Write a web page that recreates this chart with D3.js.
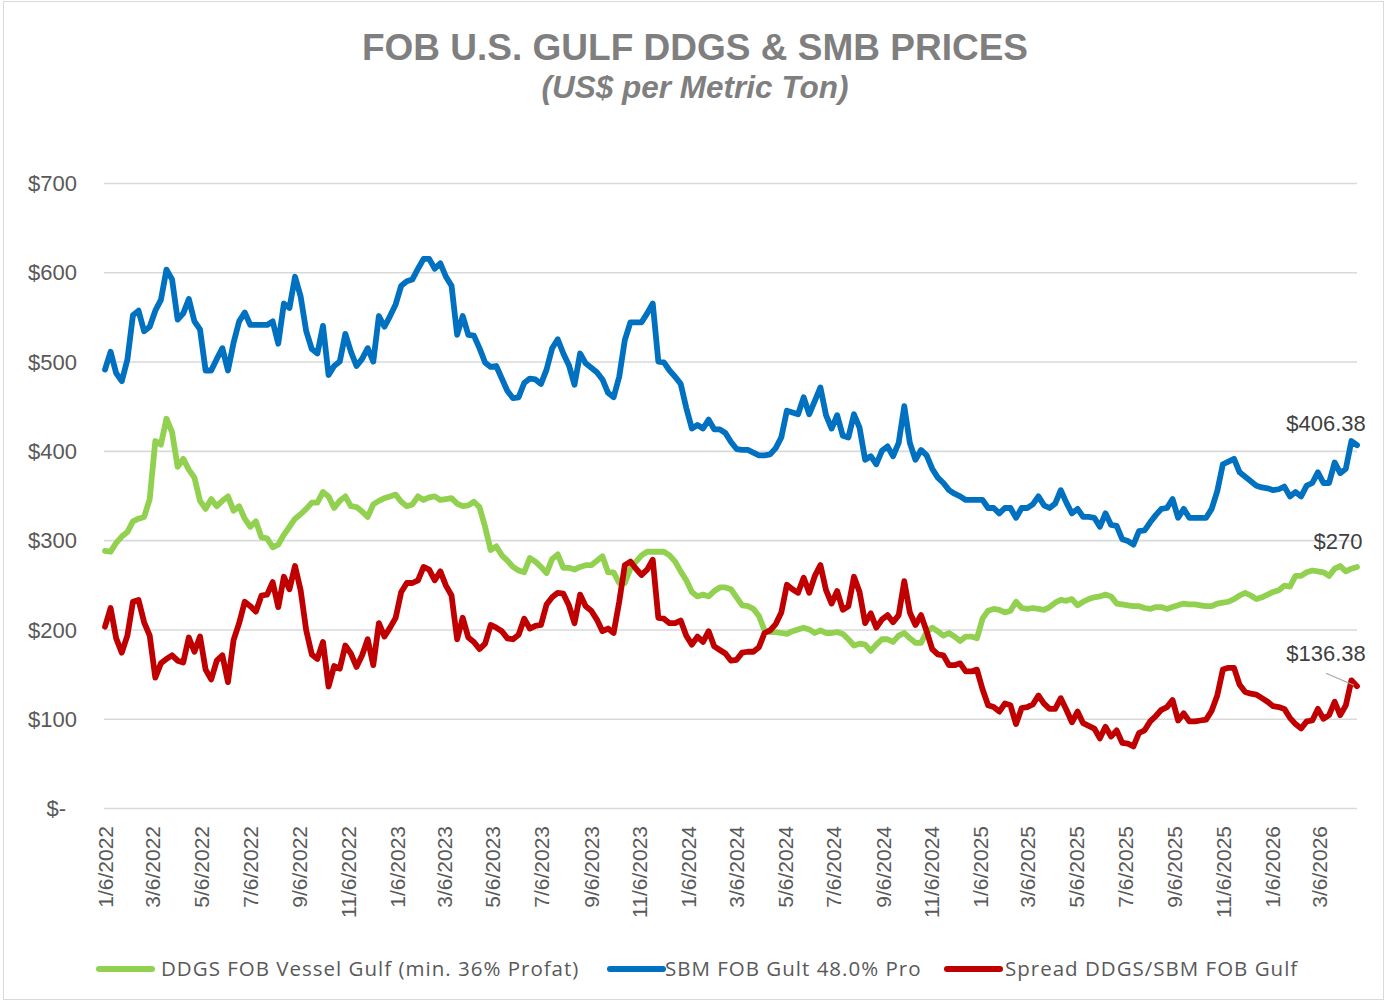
<!DOCTYPE html>
<html>
<head>
<meta charset="utf-8">
<script src="https://cdn.jsdelivr.net/npm/d3@7"></script>
<style>
  html, body { margin: 0; padding: 0; background: #fff; }
  svg { display: block; }
</style>
</head>
<body>
<div id="chart"></div>
<script>
// Weekly series, first week = 1/6/2022
const firstWeek = "2022-01-06";

const ddgs = [
  288, 287, 297, 304, 309, 321, 324, 326, 346, 411, 407, 436, 421, 382, 391, 379, 370, 344, 335, 346,
  338, 344, 349, 333, 338, 324, 315, 321, 303, 302, 292, 295, 306, 315, 324, 329, 335, 342, 342, 354,
  349, 336, 344, 349, 338, 337, 332, 326, 340, 344, 347, 349, 351, 343, 338, 340, 349, 345, 348, 349,
  345, 346, 347, 341, 338, 339, 343, 337, 315, 289, 293, 283, 277, 270, 266, 264, 280, 276, 270, 263,
  279, 284, 269, 269, 267, 270, 272, 272, 277, 282, 264, 264, 252, 252, 268, 276, 283, 287, 287, 287,
  287, 283, 276, 265, 255, 242, 237, 239, 237, 243, 247, 247, 245, 236, 227, 226, 223, 215, 199, 197,
  197, 196, 195, 198, 200, 202, 200, 196, 199, 196, 196, 197, 195, 189, 182, 184, 183, 176, 183, 189,
  189, 186, 193, 196, 190, 185, 185, 197, 202, 198, 193, 196, 192, 187, 192, 192, 190, 212, 221, 223,
  222, 219, 221, 231, 224, 223, 224, 223, 222, 225, 230, 233, 232, 234, 227, 231, 234, 236, 237, 239,
  237, 229, 228, 227, 226, 226, 224, 223, 225, 225, 223, 225, 227, 229, 228, 228, 227, 226, 226, 229,
  230, 231, 234, 238, 241, 238, 234, 236, 239, 242, 244, 249, 248, 260, 260, 264, 266, 265, 264, 260,
  268, 271, 265, 268, 270
];

const sbm = [
  491, 511, 487, 478, 502, 552, 557, 534, 539, 557, 569, 603, 592, 547, 554, 570, 545, 536, 490, 490,
  503, 515, 490, 521, 545, 555, 541, 541, 541, 541, 545, 520, 565, 560, 595, 573, 534, 514, 509, 540,
  485, 495, 500, 531, 511, 495, 503, 515, 500, 551, 539, 551, 564, 585, 590, 592, 604, 615, 615, 604,
  610, 595, 585, 530, 551, 530, 529, 515, 499, 494, 495, 481, 467, 459, 460, 476, 481, 480, 475, 491,
  515, 525, 509, 496, 474, 509, 498, 493, 488, 480, 465, 460, 483, 524, 544, 544, 544, 554, 565, 500,
  499, 490, 483, 475, 448, 425, 429, 425, 435, 424, 424, 420, 410, 402, 401, 401, 398, 395, 395, 396,
  403, 415, 445, 443, 441, 460, 441, 456, 471, 440, 425, 440, 417, 415, 441, 426, 390, 394, 385, 400,
  405, 394, 409, 450, 409, 390, 401, 395, 380, 370, 364, 356, 352, 349, 345, 345, 345, 345, 336, 336,
  330, 336, 336, 325, 336, 336, 340, 349, 339, 336, 341, 356, 342, 330, 335, 326, 326, 325, 315, 330,
  317, 316, 301, 299, 295, 310, 311, 320, 328, 335, 336, 346, 325, 335, 325, 325, 325, 325, 335, 355,
  385, 388, 391, 376, 371, 366, 361, 359, 358, 356, 357, 360, 349, 354, 349, 361, 364, 376, 364, 364,
  387, 375, 380, 411, 406.38
];

const spread = [
  203, 224, 190, 174, 193, 231, 233, 208, 193, 146, 162, 167, 171, 165, 163, 191, 175, 192, 155, 144,
  165, 171, 141, 188, 207, 231, 226, 220, 238, 239, 253, 225, 259, 245, 271, 244, 199, 172, 167, 186,
  136, 159, 156, 182, 173, 158, 171, 189, 160, 207, 192, 202, 213, 242, 252, 252, 255, 270, 267, 255,
  265, 249, 238, 189, 213, 191, 186, 178, 184, 205, 202, 198, 190, 189, 194, 212, 201, 204, 205, 228,
  236, 241, 240, 227, 207, 239, 226, 221, 211, 198, 201, 196, 231, 272, 276, 268, 261, 267, 278, 213,
  212, 207, 207, 210, 193, 183, 192, 186, 198, 181, 177, 173, 165, 166, 174, 175, 175, 180, 196, 199,
  206, 219, 250, 245, 241, 258, 241, 260, 272, 244, 229, 243, 222, 226, 259, 242, 207, 218, 202, 211,
  216, 208, 216, 254, 219, 205, 216, 198, 178, 172, 171, 160, 160, 162, 153, 153, 155, 133, 115, 113,
  108, 117, 115, 94, 112, 113, 116, 126, 117, 111, 111, 123, 110, 96, 108, 95, 92, 89, 78, 91,
  80, 87, 73, 72, 69, 84, 87, 97, 103, 110, 113, 121, 98, 106, 97, 97, 98, 99, 109, 126,
  155, 157, 157, 138, 130, 128, 127, 123, 119, 114, 113, 111, 101, 94, 89, 97, 98, 111, 100, 104,
  119, 104, 115, 143, 136.38
];

const seriesNames = [
  "DDGS FOB Vessel Gulf (min. 36% Profat)",
  "SBM FOB Gult 48.0% Pro",
  "Spread DDGS/SBM FOB Gulf"
];
const seriesColors = ["#92D050", "#0070C0", "#C00000"];

const xTickLabels = [
  "1/6/2022", "3/6/2022", "5/6/2022", "7/6/2022", "9/6/2022", "11/6/2022",
  "1/6/2023", "3/6/2023", "5/6/2023", "7/6/2023", "9/6/2023", "11/6/2023",
  "1/6/2024", "3/6/2024", "5/6/2024", "7/6/2024", "9/6/2024", "11/6/2024",
  "1/6/2025", "3/6/2025", "5/6/2025", "7/6/2025", "9/6/2025", "11/6/2025",
  "1/6/2026", "3/6/2026"
];
const yTicks = [0, 100, 200, 300, 400, 500, 600, 700];

const title = "FOB U.S. GULF DDGS & SMB PRICES";
const subtitle = "(US$ per Metric Ton)";

// ---- layout
const W = 1389, H = 1003;
const plot = { left: 104, right: 1357, top: 183, bottom: 808 };

const svg = d3.select("#chart").append("svg")
  .attr("width", W)
  .attr("height", H)
  .attr("viewBox", `0 0 ${W} ${H}`);

svg.append("rect")
  .attr("x", 3.5).attr("y", 1.5)
  .attr("width", 1380).attr("height", 998)
  .attr("fill", "#fff")
  .attr("stroke", "#d9d9d9")
  .attr("stroke-width", 1);

// dates for each weekly point
const start = d3.timeParse("%Y-%m-%d")(firstWeek);
const dates = ddgs.map((_, i) => d3.timeDay.offset(start, 7 * i));

const x = d3.scaleTime()
  .domain([dates[0], dates[dates.length - 1]])
  .range([105, plot.right]);

const y = d3.scaleLinear()
  .domain([0, 700])
  .range([plot.bottom, plot.top]);

// title
svg.append("text")
  .attr("x", 695).attr("y", 60)
  .attr("text-anchor", "middle")
  .style("font-family", "'Liberation Sans', Arial, sans-serif")
  .style("font-weight", "bold")
  .style("font-size", "37px")
  .style("fill", "#7f7f7f")
  .text(title);

svg.append("text")
  .attr("x", 695).attr("y", 98)
  .attr("text-anchor", "middle")
  .style("font-family", "'Liberation Sans', Arial, sans-serif")
  .style("font-weight", "bold")
  .style("font-style", "italic")
  .style("font-size", "31.5px")
  .style("fill", "#7f7f7f")
  .text(subtitle);

// gridlines + y labels
const yAxis = d3.axisLeft(y)
  .tickValues(yTicks)
  .tickSize(-(plot.right - plot.left))
  .tickPadding(27)
  .tickFormat(d => d === 0 ? "$-" : "$" + d);

const gy = svg.append("g")
  .attr("transform", `translate(${plot.left},0)`)
  .call(yAxis);
gy.select(".domain").remove();
gy.selectAll(".tick line")
  .attr("stroke", "#d9d9d9")
  .attr("stroke-width", 1.6);
gy.selectAll(".tick text")
  .style("font-family", "'Liberation Sans', Arial, sans-serif")
  .style("font-size", "22px")
  .style("fill", "#595959")
  .attr("dy", "0.35em")
  .attr("dx", d => d === 0 ? -11 : 0);

// x labels (rotated)
const parseTick = d3.timeParse("%m/%d/%Y");
const xAxis = d3.axisBottom(x)
  .tickValues(xTickLabels.map(parseTick))
  .tickSize(0)
  .tickFormat((d, i) => xTickLabels[i]);

const gx = svg.append("g")
  .attr("transform", `translate(0,${plot.bottom})`)
  .call(xAxis);
gx.select(".domain").remove();
gx.selectAll(".tick text")
  .attr("transform", "rotate(-90)")
  .attr("x", -18)
  .attr("y", 0)
  .attr("dy", "0.36em")
  .attr("text-anchor", "end")
  .style("font-family", "'Liberation Sans', Arial, sans-serif")
  .style("font-size", "21px")
  .style("fill", "#595959");

// lines
const seriesData = [ddgs, sbm, spread];
const line = d3.line()
  .x((d, i) => x(dates[i]))
  .y(d => y(d));

svg.append("g").selectAll("path")
  .data(seriesData)
  .join("path")
  .attr("d", d => line(d))
  .attr("fill", "none")
  .attr("stroke", (d, i) => seriesColors[i])
  .attr("stroke-width", 5.8)
  .attr("stroke-linejoin", "round")
  .attr("stroke-linecap", "round");

// end labels
const last = dates.length - 1;
const fmtEnd = v => "$" + (Number.isInteger(v) ? v : v.toFixed(2));
const endLabels = [
  { v: sbm[last], dx: -31, dy: -14 },
  { v: ddgs[last], dx: -19, dy: -18 },
  { v: spread[last], dx: -31, dy: -25 }
];
svg.append("g").selectAll("text")
  .data(endLabels)
  .join("text")
  .attr("x", d => x(dates[last]) + d.dx)
  .attr("y", d => y(d.v) + d.dy)
  .attr("text-anchor", "middle")
  .style("font-family", "'Liberation Sans', Arial, sans-serif")
  .style("font-size", "22px")
  .style("fill", "#404040")
  .text(d => fmtEnd(d.v));

// leader line for spread label
svg.append("line")
  .attr("x1", x(dates[last]) - 31)
  .attr("y1", y(spread[last]) - 13)
  .attr("x2", x(dates[last]) - 3)
  .attr("y2", y(spread[last]) - 1)
  .attr("stroke", "#a6a6a6")
  .attr("stroke-width", 1.2);

// legend
const legendX = [96, 607, 944];
const legendTextX = [161, 665, 1005];
const lg = svg.append("g").attr("transform", "translate(0,969)");
seriesNames.forEach((name, i) => {
  lg.append("line")
    .attr("x1", legendX[i] + 3).attr("x2", legendX[i] + 56)
    .attr("y1", 0).attr("y2", 0)
    .attr("stroke", seriesColors[i])
    .attr("stroke-width", 6)
    .attr("stroke-linecap", "round");
  lg.append("text")
    .attr("x", legendTextX[i])
    .attr("y", 0)
    .attr("dy", "0.35em")
    .style("font-family", "'Open Sans', sans-serif")
    .style("font-size", "20.5px")
    .style("letter-spacing", "1px")
    .style("fill", "#595959")
    .text(name);
});
</script>
</body>
</html>
